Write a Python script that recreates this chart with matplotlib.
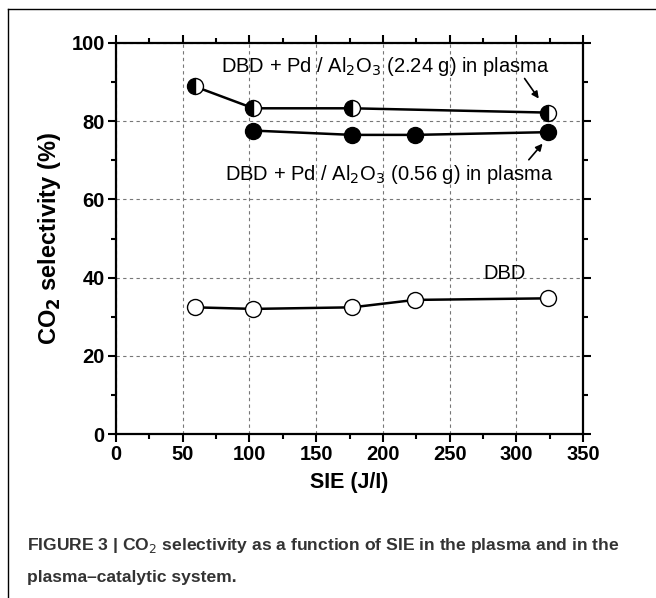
import matplotlib.pyplot as plt
from matplotlib.lines import Line2D

plt.rcParams['font.family'] = ['Liberation Sans', 'DejaVu Sans']

# CO2 selectivity vs SIE
sie_dbd = [59, 103, 177, 224, 324]
sel_dbd = [32.4, 32.0, 32.4, 34.3, 34.7]

sie_224 = [59, 103, 177, 324]
sel_224 = [88.9, 83.3, 83.3, 82.2]

sie_056 = [103, 177, 224, 324]
sel_056 = [77.6, 76.5, 76.5, 77.2]

xticks = [0, 50, 100, 150, 200, 250, 300, 350]
yticks = [0, 20, 40, 60, 80, 100]

fig = plt.figure(figsize=(6.56, 5.98), dpi=100)
ax = fig.add_axes([0.1768, 0.2742, 0.712, 0.6539])

ax.plot(sie_dbd, sel_dbd, '-o', color='black', lw=1.8, ms=11.5,
        mfc='white', mec='black', mew=1, zorder=3)
ax.plot(sie_224, sel_224, '-o', color='black', lw=1.8, ms=11.5,
        fillstyle='left', mfc='black', mfcalt='white', mec='black', mew=1, zorder=3)
ax.plot(sie_056, sel_056, '-o', color='black', lw=1.8, ms=11.5,
        mfc='black', mec='black', mew=1, zorder=3)

ax.set_xlim(0, 350)
ax.set_ylim(0, 100)
ax.set_xticks(xticks)
ax.set_yticks(yticks)
ax.set_xticks([25, 75, 125, 175, 225, 275, 325], minor=True)
ax.set_yticks([10, 30, 50, 70, 90], minor=True)
ax.tick_params(which='both', direction='out', top=True, right=True,
               labeltop=False, labelright=False, width=1.5)
ax.tick_params(which='major', length=6, labelsize=14.5, pad=2)
ax.tick_params(which='minor', length=3.5)
for lab in ax.get_xticklabels() + ax.get_yticklabels():
    lab.set_fontweight('bold')
for s in ax.spines.values():
    s.set_linewidth(1.6)

ax.grid(True, which='major', linestyle=(0, (3, 3)), color='#777777', lw=0.8)

ax.set_xlabel('SIE (J/I)', fontsize=15.5, fontweight='bold', labelpad=6)
ax.set_ylabel('CO$_\\mathbf{2}$ selectivity (%)', fontsize=17, fontweight='bold', labelpad=6)

ax.text(79, 92.6, 'DBD + Pd / Al$_2$O$_3$ (2.24 g) in plasma', fontsize=14.5)
ax.text(82, 65, 'DBD + Pd / Al$_2$O$_3$ (0.56 g) in plasma', fontsize=14.5)
ax.text(275, 39.6, 'DBD', fontsize=14.5)

ax.annotate('', xy=(318, 85.2), xytext=(305, 91.5),
            arrowprops=dict(arrowstyle='-|>', color='black', lw=1.2, mutation_scale=10))
ax.annotate('', xy=(321, 74.8), xytext=(308, 69.6),
            arrowprops=dict(arrowstyle='-|>', color='black', lw=1.2, mutation_scale=10))

# caption
fig.text(0.041, 0.080, 'FIGURE 3 | CO$_2$ selectivity as a function of SIE in the plasma and in the',
         fontsize=12.6, fontweight='bold', color='#333333')
fig.text(0.041, 0.027, 'plasma\u2013catalytic system.',
         fontsize=12.6, fontweight='bold', color='#333333')

# page frame lines
fig.add_artist(Line2D([8 / 656, 1], [1 - 9 / 598, 1 - 9 / 598], color='black', lw=1.0))
fig.add_artist(Line2D([8 / 656, 8 / 656], [0, 1 - 9 / 598], color='black', lw=1.0))

fig.savefig('out.png', dpi=100)
